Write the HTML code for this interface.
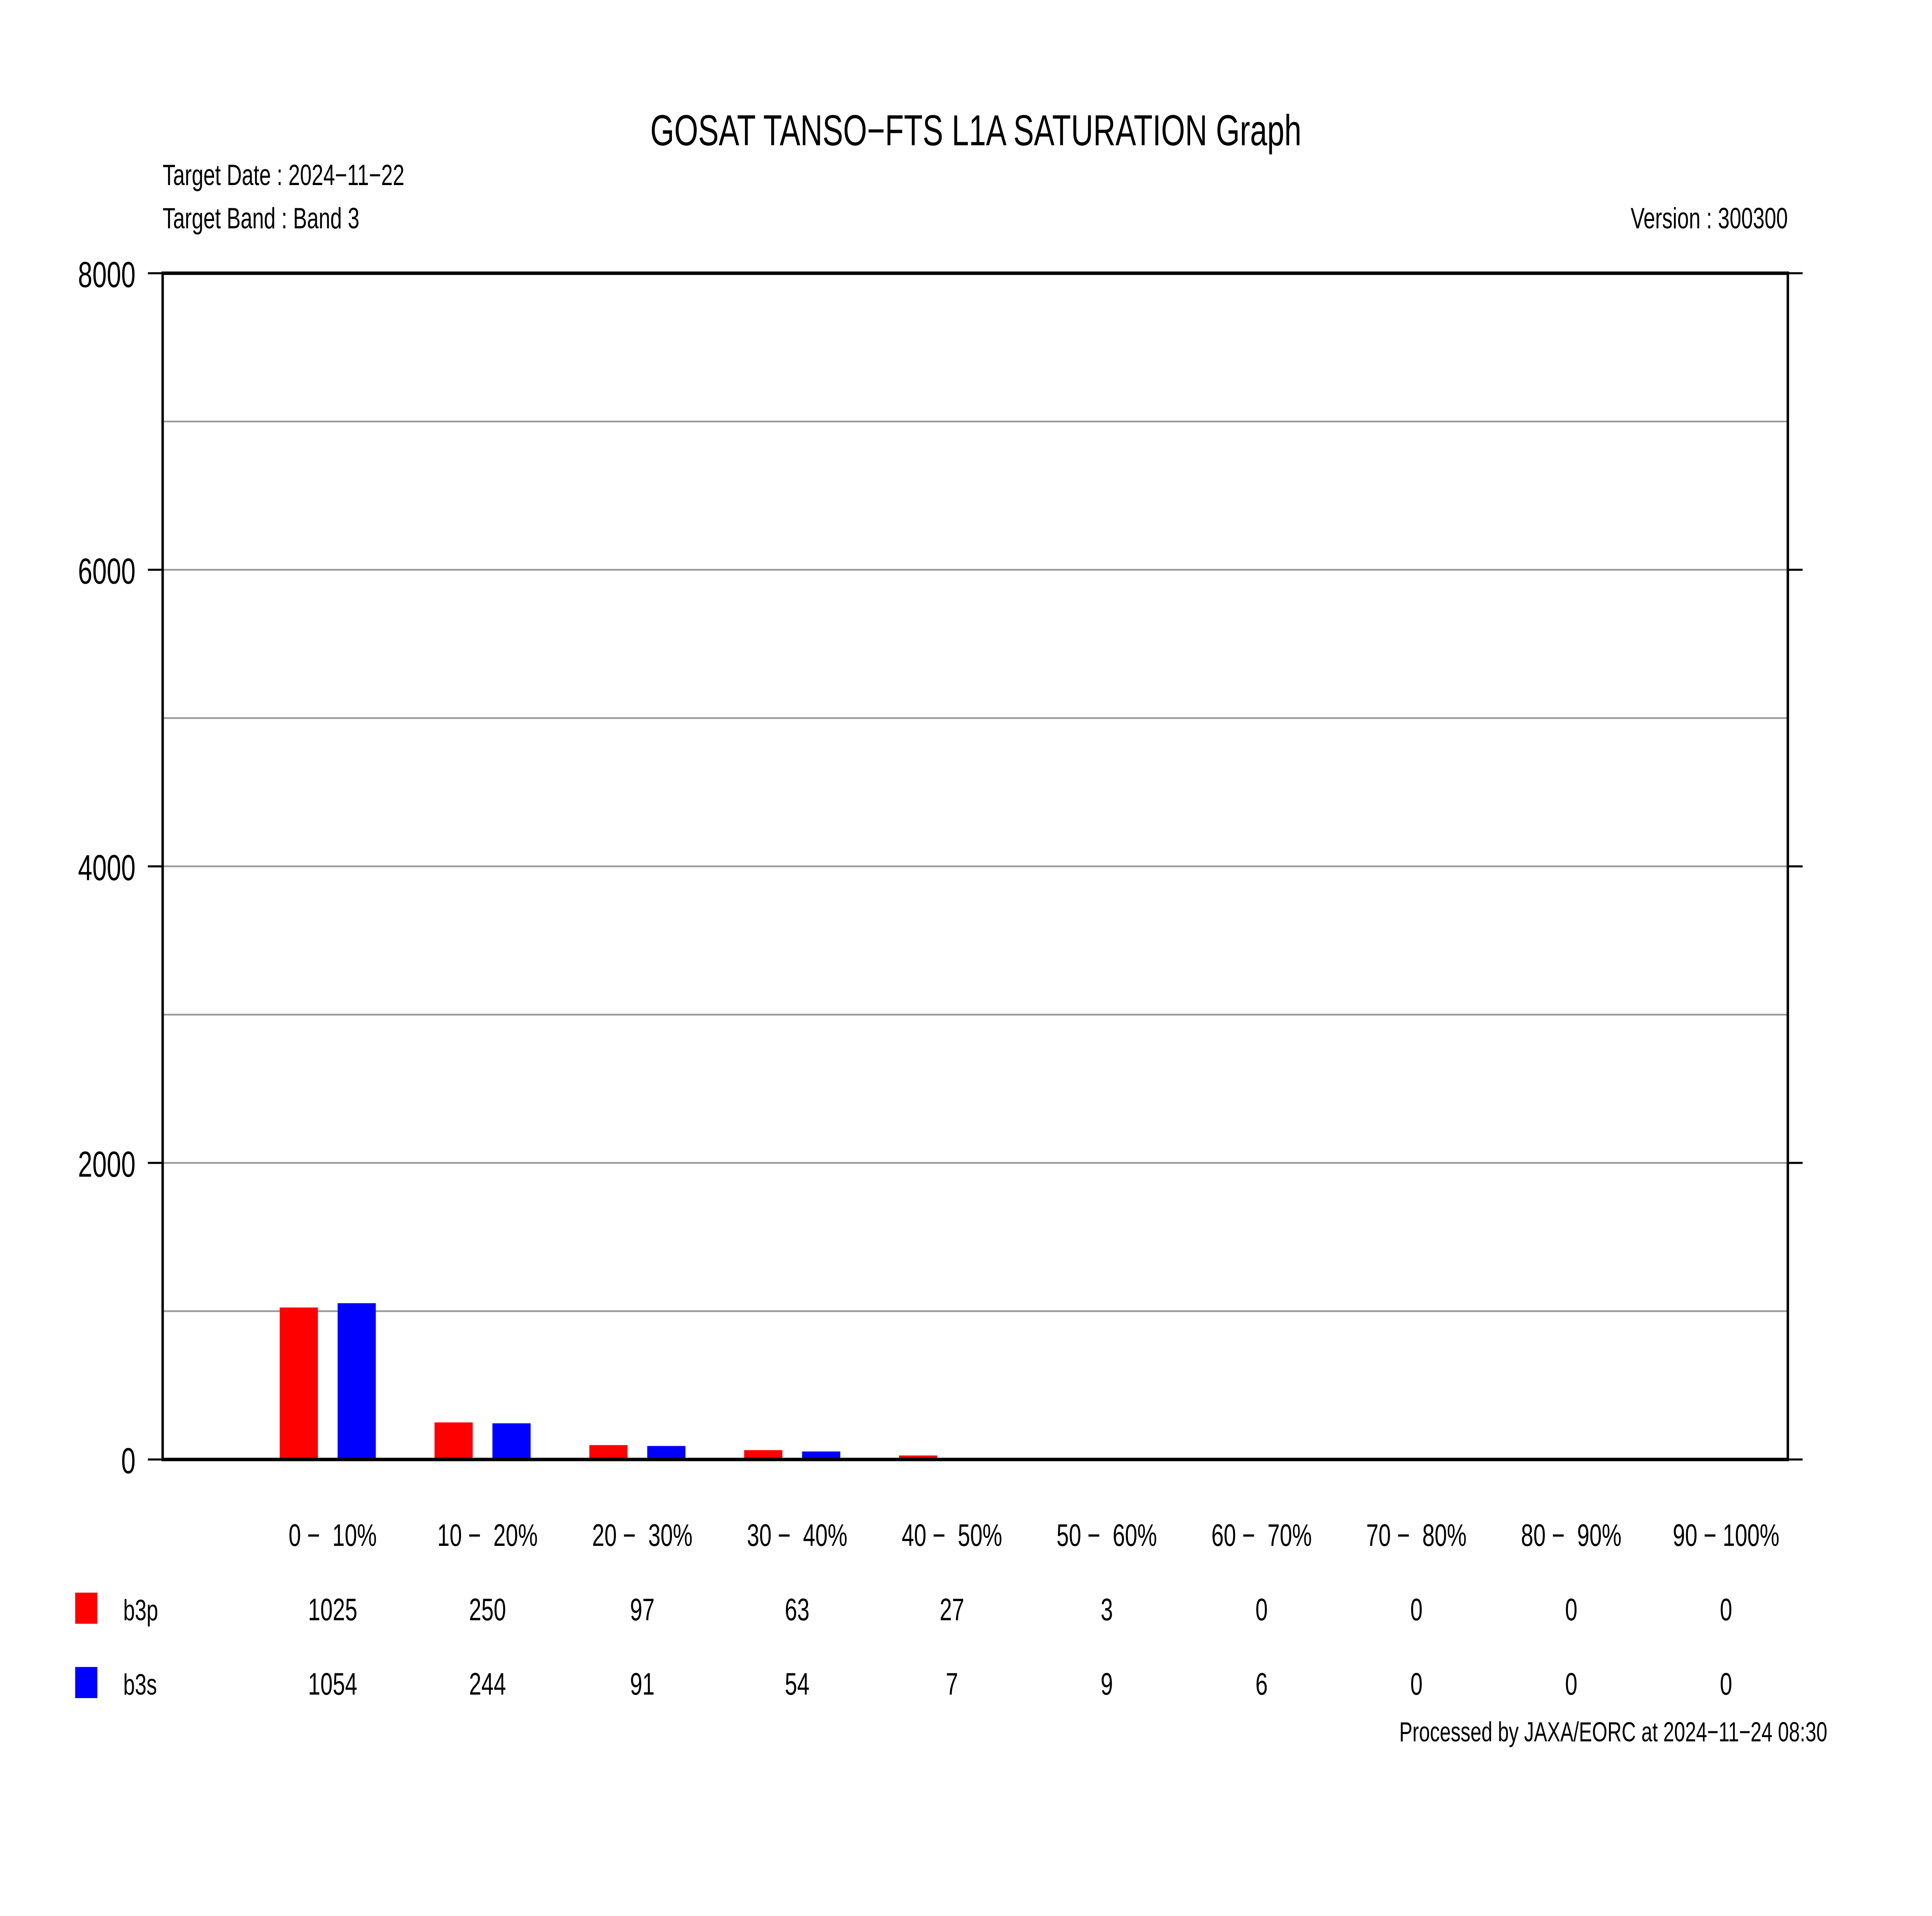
<!DOCTYPE html>
<html><head><meta charset="utf-8"><style>
html,body{margin:0;padding:0;background:#fff;width:100%;height:100%;overflow:hidden;}
svg{display:block;width:100vw;height:100vh;font-family:"Liberation Sans",Arial,sans-serif;}
</style></head><body>
<svg id="chart" viewBox="0 0 1568 1108" preserveAspectRatio="none" xmlns="http://www.w3.org/2000/svg">
<rect x="0" y="0" width="1568" height="1108" fill="#fff"/>
<text x="792" y="84" font-size="25" text-anchor="middle">GOSAT TANSO−FTS L1A SATURATION Graph</text>
<text x="132" y="107" font-size="17">Target Date : 2024−11−22</text>
<text x="132" y="132" font-size="17">Target Band : Band 3</text>
<text x="1451" y="132" font-size="17" text-anchor="end">Version : 300300</text>
<g id="grid"></g>
<g id="bars"></g>
<g id="axes"></g>
<g id="labels"></g>
<rect x="61" y="921" width="18" height="18" fill="#ff0000"/>
<text x="100" y="937" font-size="17">b3p</text>
<rect x="61" y="964" width="18" height="18" fill="#0000ff"/>
<text x="100" y="980" font-size="17">b3s</text>
<text x="1483" y="1007" font-size="16" text-anchor="end">Processed by JAXA/EORC at 2024−11−24 08:30</text>
</svg>
<script>
const categories = ["0 −  10%","10 −  20%","20 −  30%","30 −  40%","40 −  50%","50 −  60%","60 −  70%","70 −  80%","80 −  90%","90 − 100%"];
const b3p = [1025,250,97,63,27,3,0,0,0,0];
const b3s = [1054,244,91,54,7,9,6,0,0,0];
const yTicks = [0,2000,4000,6000,8000];
const yGrid = [1000,2000,3000,4000,5000,6000,7000];

const NS = "http://www.w3.org/2000/svg";
const L = 132, R = 1451, T = 158, B = 844, YMAX = 8000;
const y = v => B - (v / YMAX) * (B - T);
const xc = i => 270 + i * 125.65;
function mk(parent, tag, attrs) {
  const e = document.createElementNS(NS, tag);
  for (const k in attrs) e.setAttribute(k, attrs[k]);
  parent.appendChild(e);
  return e;
}
const grid = document.getElementById('grid');
yGrid.forEach(v => {
  const l = mk(grid, 'line', {x1: L, x2: R, y1: y(v), y2: y(v), stroke: '#999', 'stroke-width': 1});
  
  
});
const bars = document.getElementById('bars');
const bw = 31;
categories.forEach((c, i) => {
  const r1 = mk(bars, 'rect', {x: xc(i) - 43, y: y(b3p[i]), width: bw, height: B - y(b3p[i]), fill: '#ff0000'});
  
  
  const r2 = mk(bars, 'rect', {x: xc(i) + 4, y: y(b3s[i]), width: bw, height: B - y(b3s[i]), fill: '#0000ff'});
  
  
});
const axes = document.getElementById('axes');
const frame = mk(axes, 'rect', {x: L, y: T, width: R - L, height: B - T, fill: 'none', stroke: '#000', 'stroke-width': 2});


yTicks.forEach(v => {
  const t1 = mk(axes, 'line', {x1: 120, x2: L, y1: y(v), y2: y(v), stroke: '#000', 'stroke-width': 1.2});
  
  
  const t2 = mk(axes, 'line', {x1: R, x2: 1463, y1: y(v), y2: y(v), stroke: '#000', 'stroke-width': 1.2});
  
  
  const tx = mk(axes, 'text', {x: 110, y: y(v) + 8, 'font-size': 21, 'text-anchor': 'end'});
  tx.textContent = v;
  
  
});
const labels = document.getElementById('labels');
categories.forEach((c, i) => {
  const t = mk(labels, 'text', {x: xc(i), y: 894, 'font-size': 18, 'text-anchor': 'middle'});
  t.textContent = c;
  t.style.whiteSpace = 'pre';
  
  
  const a = mk(labels, 'text', {x: xc(i), y: 937, 'font-size': 18, 'text-anchor': 'middle'});
  a.textContent = b3p[i];
  
  
  const b = mk(labels, 'text', {x: xc(i), y: 980, 'font-size': 18, 'text-anchor': 'middle'});
  b.textContent = b3s[i];
  
  
});
</script>
</body></html>
